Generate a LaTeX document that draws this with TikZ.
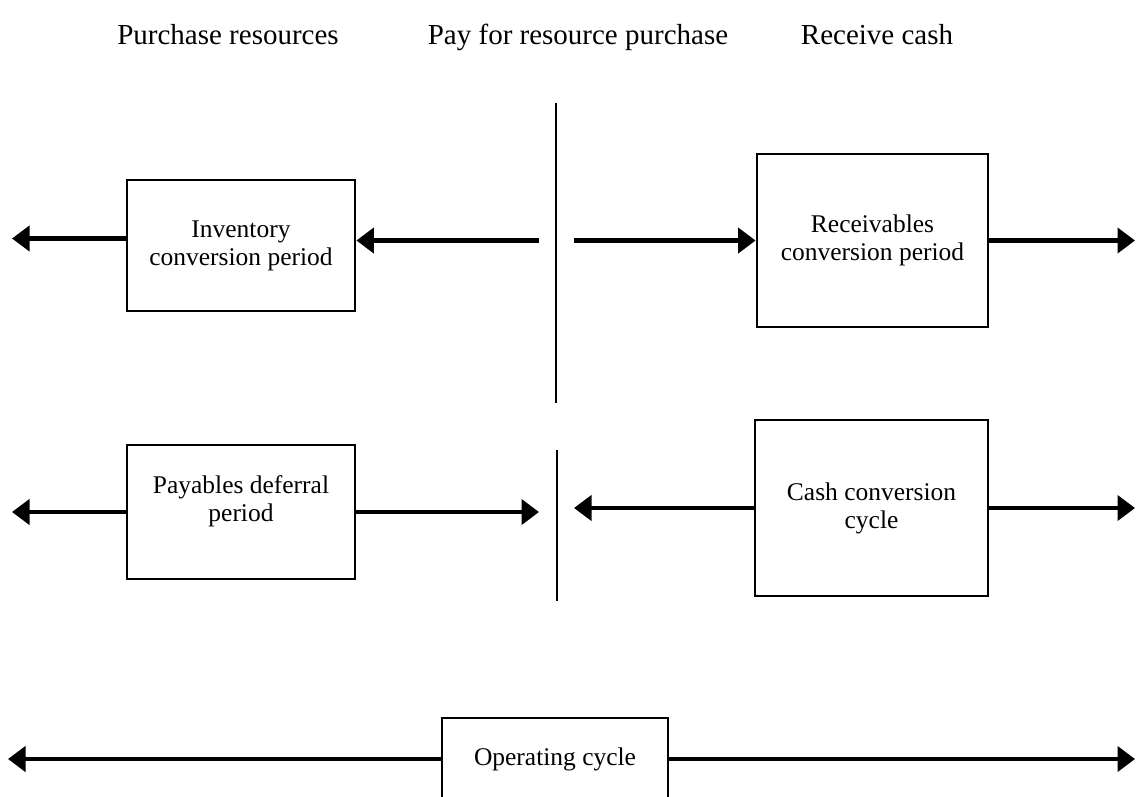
\documentclass[tikz,border=0pt]{standalone}
\usepackage{fontspec}
\setmainfont{Liberation Serif}
\usetikzlibrary{calc,arrows.meta}

\begin{document}
\begin{tikzpicture}[
  period/.style={draw, line width=1.6pt, align=center, inner sep=2pt,
    font=\fontsize{14.5}{16}\selectfont},
  heading/.style={anchor=base, font=\fontsize{16.5}{18}\selectfont},
  flow/.style={line width=2.3pt, -{Triangle[length=3.5mm,width=5mm]}},
  divider/.style={line width=0.8pt}
]
\useasboundingbox (0,0) rectangle (22.74,-15.92);

\node[heading] (buy)  at (4.56,-0.88)  {Purchase resources};
\node[heading] (pay)  at (11.56,-0.88) {Pay for resource purchase};
\node[heading] (cash) at (17.54,-0.88) {Receive cash};

\node[period, minimum width=4.56cm, minimum height=2.62cm] (inv) at (4.82,-4.91)
  {Inventory\\conversion period};
\node[period, minimum width=4.62cm, minimum height=3.46cm] (rec) at (17.45,-4.81)
  {Receivables\\conversion period};
\node[period, minimum width=4.56cm, minimum height=2.68cm, text depth=0.55cm] (dpp) at (4.82,-10.24)
  {Payables deferral\\period};
\node[period, minimum width=4.66cm, minimum height=3.52cm] (ccc) at (17.43,-10.16)
  {Cash conversion\\cycle};
\node[period, minimum width=4.52cm, minimum height=1.64cm] (opc) at (11.10,-15.18)
  {Operating cycle};

\coordinate (farL) at (0.24,0);
\coordinate (farR) at (22.70,0);
\coordinate (midL) at (10.78,0);
\coordinate (midR) at (11.48,0);
\coordinate (invW) at ($(inv.west)+(0,0.14)$);
\coordinate (invE) at ($(inv.east)+(0,0.10)$);

\draw[divider] (11.12,-2.06) -- (11.12,-8.06);
\draw[divider] (11.14,-9.00) -- (11.14,-12.02);

\draw[flow] (invW) -- (invW -| farL);
\draw[flow] (invE -| midL) -- (invE);
\draw[flow] (rec.west -| midR) -- (rec.west);
\draw[flow] (rec.east) -- (rec.east -| farR);

\draw[flow] (dpp.west) -- (dpp.west -| farL);
\draw[flow] (dpp.east) -- (dpp.east -| midL);
\draw[flow] (ccc.west) -- (ccc.west -| midR);
\draw[flow] (ccc.east) -- (ccc.east -| farR);

\draw[flow] (opc.west) -- ($(opc.west -| farL)+(-0.08,0)$);
\draw[flow] (opc.east) -- (opc.east -| farR);
\end{tikzpicture}
\end{document}
